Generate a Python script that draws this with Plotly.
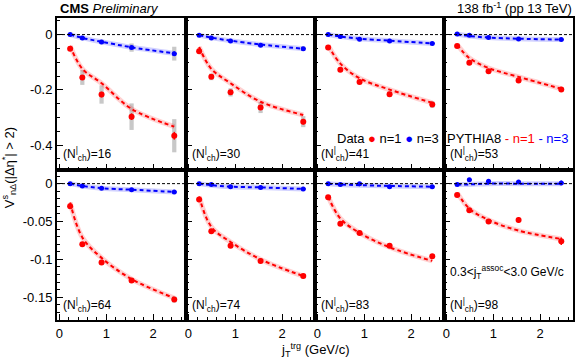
import plotly.graph_objects as go
from plotly.subplots import make_subplots

# ---------------- data ----------------
pt = [0.23, 0.49, 0.90, 1.54, 2.45]
nch = [16, 30, 41, 53, 64, 74, 83, 98]

data_n1 = [
    [-0.051, -0.155, -0.217, -0.297, -0.366],
    [-0.060, -0.153, -0.209, -0.264, -0.315],
    [-0.047, -0.127, -0.172, -0.216, -0.253],
    [-0.041, -0.102, -0.133, -0.166, -0.199],
    [-0.030, -0.080, -0.104, -0.128, -0.153],
    [-0.021, -0.063, -0.082, -0.102, -0.122],
    [-0.018, -0.053, -0.065, -0.082, -0.096],
    [-0.015, -0.035, -0.050, -0.048, -0.076],
]
data_n3 = [
    [0.000, -0.012, -0.027, -0.047, -0.069],
    [-0.002, -0.012, -0.023, -0.039, -0.051],
    [0.000, -0.007, -0.017, -0.023, -0.032],
    [0.002, -0.002, -0.011, -0.016, -0.018],
    [0.000, -0.003, -0.006, -0.008, -0.011],
    [0.000, -0.001, -0.004, -0.005, -0.007],
    [0.000, -0.001, 0.000, -0.004, -0.004],
    [-0.001, 0.005, 0.003, 0.002, 0.001],
]
stat_n1 = [
    [0.006, 0.008, 0.010, 0.012, 0.014],
    [0.004, 0.005, 0.006, 0.008, 0.010],
    [0.003, 0.004, 0.005, 0.006, 0.007],
    [0.002, 0.003, 0.004, 0.005, 0.006],
    [0.001, 0.001, 0.002, 0.002, 0.003],
    [0.001, 0.001, 0.001, 0.002, 0.002],
    [0.001, 0.001, 0.002, 0.002, 0.002],
    [0.002, 0.002, 0.003, 0.004, 0.005],
]
stat_n3 = [
    [0.004, 0.004, 0.005, 0.006, 0.008],
    [0.003, 0.003, 0.004, 0.005, 0.005],
    [0.002, 0.002, 0.003, 0.003, 0.004],
    [0.002, 0.002, 0.002, 0.003, 0.003],
    [0.001, 0.001, 0.001, 0.002, 0.002],
    [0.001, 0.001, 0.001, 0.001, 0.002],
    [0.001, 0.001, 0.001, 0.002, 0.002],
    [0.001, 0.002, 0.002, 0.002, 0.003],
]
syst_n1 = [
    [0.008, 0.027, 0.033, 0.048, 0.060],
    [0.005, 0.012, 0.015, 0.020, 0.020],
    [0.004, 0.006, 0.008, 0.010, 0.012],
    [0.003, 0.005, 0.006, 0.007, 0.008],
    [0.002, 0.002, 0.003, 0.003, 0.004],
    [0.002, 0.002, 0.002, 0.003, 0.003],
    [0.002, 0.002, 0.002, 0.002, 0.003],
    [0.002, 0.002, 0.002, 0.002, 0.003],
]
syst_n3 = [
    [0.003, 0.005, 0.008, 0.015, 0.025],
    [0.002, 0.003, 0.004, 0.006, 0.008],
    [0.001, 0.002, 0.002, 0.003, 0.004],
    [0.001, 0.001, 0.002, 0.002, 0.002],
    [0.001, 0.001, 0.001, 0.001, 0.001],
    [0.001, 0.001, 0.001, 0.001, 0.001],
    [0.001, 0.001, 0.001, 0.001, 0.001],
    [0.001, 0.001, 0.001, 0.001, 0.001],
]
pythia_n1 = [
    [-0.041, -0.124, -0.176, -0.269, -0.333],
    [-0.045, -0.124, -0.176, -0.243, -0.291],
    [-0.039, -0.105, -0.158, -0.199, -0.247],
    [-0.036, -0.085, -0.121, -0.153, -0.196],
    [-0.025, -0.071, -0.098, -0.126, -0.151],
    [-0.017, -0.057, -0.077, -0.100, -0.122],
    [-0.017, -0.046, -0.065, -0.084, -0.102],
    [-0.012, -0.033, -0.048, -0.062, -0.073],
]
pythia_n3 = [
    [0.000, -0.012, -0.026, -0.046, -0.068],
    [-0.002, -0.011, -0.022, -0.036, -0.051],
    [0.000, -0.007, -0.015, -0.022, -0.032],
    [0.001, -0.005, -0.011, -0.015, -0.018],
    [0.000, -0.003, -0.006, -0.008, -0.011],
    [0.000, -0.002, -0.004, -0.005, -0.007],
    [0.000, -0.001, -0.002, -0.003, -0.004],
    [-0.001, -0.001, 0.000, 0.000, 0.000],
]
top_ticks = [0, -0.2, -0.4]
bottom_ticks = [0, -0.05, -0.1, -0.15]
x_ticks = [0, 1, 2]

RED = "#ff0000"
BLUE = "#0000ff"
FONT = "Liberation Sans, Arial, sans-serif"

W, H = 580, 362
ML, MR, MT, MB = 57, 5, 18, 42
PW, PH = W - ML - MR, H - MT - MB

fig = make_subplots(rows=2, cols=4, horizontal_spacing=0, vertical_spacing=0)

for i in range(8):
    r, c = i // 4 + 1, i % 4 + 1
    # systematic boxes
    for vals, syst in ((data_n1[i], syst_n1[i]), (data_n3[i], syst_n3[i])):
        fig.add_trace(go.Bar(x=pt, y=[2 * s for s in syst],
                             base=[v - s for v, s in zip(vals, syst)],
                             width=0.09, marker=dict(color="#c8c8c8", line_width=0),
                             showlegend=False, hoverinfo="skip"), row=r, col=c)
    # PYTHIA bands + dashed lines
    for vals, col, band in ((pythia_n1[i], RED, "rgba(255,0,0,0.18)"),
                            (pythia_n3[i], BLUE, "rgba(0,0,255,0.18)")):
        fig.add_trace(go.Scatter(x=pt, y=vals, mode="lines",
                                 line=dict(color=band, width=5, shape="spline"),
                                 showlegend=False, hoverinfo="skip"), row=r, col=c)
        fig.add_trace(go.Scatter(x=pt, y=vals, mode="lines",
                                 line=dict(color=col, width=2, dash="4px,3px", shape="spline"),
                                 showlegend=False), row=r, col=c)
    # data points
    fig.add_trace(go.Scatter(x=pt, y=data_n1[i], mode="markers",
                             marker=dict(color=RED, size=6),
                             error_y=dict(type="data", array=stat_n1[i], color=RED, thickness=1.5, width=0),
                             showlegend=False), row=r, col=c)
    fig.add_trace(go.Scatter(x=pt, y=data_n3[i], mode="markers",
                             marker=dict(color=BLUE, size=5),
                             error_y=dict(type="data", array=stat_n3[i], color=BLUE, thickness=1.5, width=0),
                             error_x=dict(type="constant", value=0.05, color=BLUE, thickness=1.5, width=0),
                             showlegend=False), row=r, col=c)
    fig.add_hline(y=0, line=dict(color="black", width=1, dash="3px,2px"), row=r, col=c)

    # axes
    top = r == 1
    xa = dict(domain=[(c - 1) / 4, c / 4], range=[-0.05, 2.7],
              tickvals=x_ticks, ticktext=[str(t) for t in x_ticks],
              showticklabels=not top, ticks="inside", ticklen=6, tickcolor="black",
              minor=dict(dtick=0.2, ticks="inside", ticklen=3, tickcolor="black"),
              showline=True, linecolor="black", linewidth=2, mirror=True,
              showgrid=False, zeroline=False,
              tickfont=dict(family=FONT, size=13, color="black"))
    split = 1 - 152 / PH
    ya = dict(domain=[split, 1] if top else [0, split],
              range=[-0.49, 0.06] if top else [-0.18, 0.018],
              tickvals=top_ticks if top else bottom_ticks,
              ticktext=[("%g" % t) for t in (top_ticks if top else bottom_ticks)],
              showticklabels=(c == 1), ticks="inside", ticklen=6, tickcolor="black",
              minor=dict(dtick=0.05 if top else 0.01, ticks="inside", ticklen=3, tickcolor="black"),
              showline=True, linecolor="black", linewidth=2, mirror=True,
              showgrid=False, zeroline=False,
              tickfont=dict(family=FONT, size=13, color="black"))
    fig.update_xaxes(xa, row=r, col=c)
    fig.update_yaxes(ya, row=r, col=c)

    fig.add_annotation(xref="x domain" if i == 0 else f"x{i+1} domain",
                       yref="y domain" if i == 0 else f"y{i+1} domain",
                       x=0.03, y=0.03, xanchor="left", yanchor="bottom", showarrow=False,
                       text=f"(N<sup>|</sup><sub>ch</sub>)={nch[i]}",
                       font=dict(family=FONT, size=12, color="black"))


def px(xp):
    return (xp - ML) / PW


def py(yp):
    return (H - MB - yp) / PH


ann = [
    dict(x=px(58), y=py(8), xanchor="left", text="<b>CMS</b> <i>Preliminary</i>", size=13),
    dict(x=px(576), y=py(8), xanchor="right", text="138 fb<sup>-1</sup> (pp 13 TeV)", size=13),
    dict(x=px(442), y=py(138), xanchor="right",
         text=f"Data <span style='color:{RED}'>●</span> n=1 <span style='color:{BLUE}'>●</span> n=3", size=13),
    dict(x=px(572), y=py(138), xanchor="right",
         text=f"PYTHIA8 <span style='color:{RED}'>- n=1</span> <span style='color:{BLUE}'>- n=3</span>", size=13),
    dict(x=px(568), y=py(272), xanchor="right",
         text="0.3&lt;j<sub>T</sub><sup>assoc</sup>&lt;3.0 GeV/c", size=12),
    dict(x=px(352), y=py(350), xanchor="right", text="j<sub>T</sub><sup>trg</sup> (GeV/c)", size=13),
]
for a in ann:
    fig.add_annotation(xref="paper", yref="paper", x=a["x"], y=a["y"], xanchor=a["xanchor"],
                       yanchor="middle", text=a["text"], showarrow=False,
                       font=dict(family=FONT, size=a["size"], color="black"))

fig.add_annotation(xref="paper", yref="paper", x=px(9), y=py(168), xanchor="center", yanchor="middle",
                   text="V<sup>s</sup><sub>nΔ</sub>(|Δη<sup>*</sup>| &gt; 2)", textangle=-90,
                   showarrow=False, font=dict(family=FONT, size=13, color="black"))

fig.update_layout(width=W, height=H, margin=dict(l=ML, r=MR, t=MT, b=MB),
                  plot_bgcolor="white", paper_bgcolor="white", barmode="overlay",
                  showlegend=False)

fig.write_html("out.html", config={"displayModeBar": False},
               post_script="document.body.style.margin='0';document.body.style.padding='0';")
